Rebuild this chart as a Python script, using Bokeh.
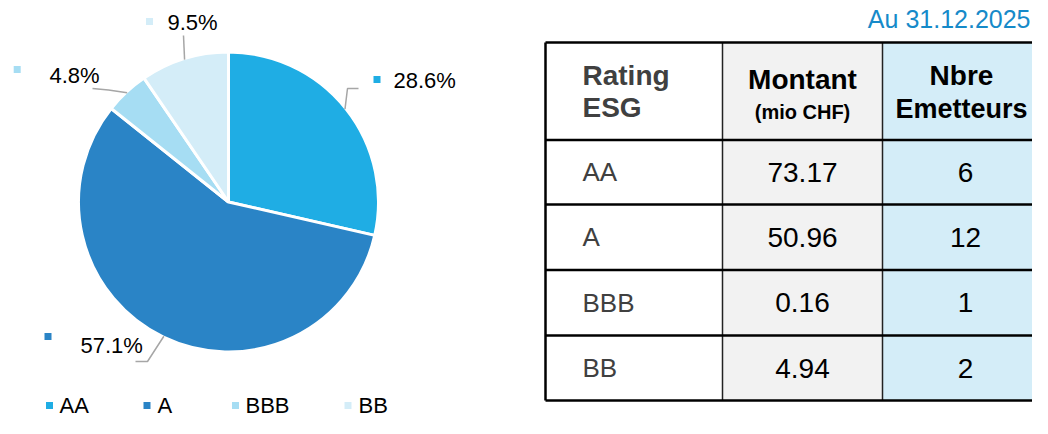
import math
from bokeh.plotting import figure
from bokeh.models import ColumnDataSource, Range1d
from bokeh.core.properties import value
from bokeh.embed import file_html
from bokeh.resources import INLINE

# ---------------- data ----------------
categories = ["AA", "A", "BBB", "BB"]
emitters = [6, 12, 1, 2]
amounts = [73.17, 50.96, 0.16, 4.94]
colors = ["#1FADE4", "#2A84C6", "#A6DDF3", "#D4EDF8"]
header_col1 = ["Rating", "ESG"]
header_col2 = ["Montant", "(mio CHF)"]
header_col3 = ["Nbre", "Emetteurs"]
date_label = "Au 31.12.2025"

FONT = value("Liberation Sans")
W, H = 1032, 418


def Y(v):
    # pixel row from top of the figure -> data y
    return H - v


p = figure(width=W, height=H, output_backend="svg", toolbar_location=None,
           x_range=Range1d(0, W), y_range=Range1d(0, H),
           x_axis_type=None, y_axis_type=None, min_border=0,
           outline_line_color=None, background_fill_color="white",
           border_fill_color="white")
p.grid.visible = False


def label(x, y, text, size, color="#000000", align="left", bold=False):
    p.text(x=x, y=[Y(v) for v in y], text=text, text_font=FONT,
           text_font_size=value(size), text_color=color,
           text_font_style="bold" if bold else "normal",
           text_align=align, text_baseline="middle")


# ---------------- pie ----------------
total = sum(emitters)
fracs = [e / total for e in emitters]
cum = [0.0]
for f in fracs:
    cum.append(cum[-1] + f)
start = [math.pi / 2 - 2 * math.pi * c for c in cum[:-1]]
end = [math.pi / 2 - 2 * math.pi * c for c in cum[1:]]
pct = ["%.1f%%" % (100 * f) for f in fracs]

CX, CY, R = 228, Y(201.5), 150
pie_src = ColumnDataSource(dict(start=start, end=end, color=colors, cat=categories))
p.wedge(x=CX, y=CY, radius=R, start_angle="start", end_angle="end",
        direction="clock", fill_color="color", line_color="white",
        line_width=3, source=pie_src)

# leader lines from slice mid-angle
mid = [(s + e) / 2 for s, e in zip(start, end)]
edge = [(CX + 149 * math.cos(a), CY + 149 * math.sin(a)) for a in mid]
leader_tail = [
    [(347, 88), (358, 88)],
    [(147, 361), (135, 361)],
    [(108, 89.5), (92, 88)],
    [(183, 35)],
]
lx, ly = [], []
for (ex, ey), tail in zip(edge, leader_tail):
    lx.append([ex] + [t[0] for t in tail])
    ly.append([ey] + [Y(t[1]) for t in tail])
p.multi_line(xs=lx, ys=ly, line_color="#A6A6A6", line_width=1.5)

mk_x = [376.5, 47.5, 16.7, 149]
mk_y = [Y(79), Y(336), Y(69), Y(21)]
p.scatter(x=mk_x, y=mk_y, marker="square", size=7, fill_color=colors,
          line_color=None)
label([393, 80, 49, 167], [80, 345, 75, 22], pct, "22px")

# legend
leg_mx = [49, 146.5, 235, 347.5]
leg_tx = [59, 157, 245, 358]
p.scatter(x=leg_mx, y=[Y(405)] * 4, marker="square", size=7,
          fill_color=colors, line_color=None)
label(leg_tx, [405] * 4, categories, "22px")

# ---------------- table ----------------
cols = [545, 722, 882, 1040]
rows = [42, 139.5, 204, 269.5, 335, 400]
col_fill = ["#FFFFFF", "#F2F2F2", "#D4EDF8"]
p.quad(left=cols[:-1], right=cols[1:], top=[Y(rows[0])] * 3,
       bottom=[Y(rows[-1])] * 3, fill_color=col_fill, line_color=None)

# vertical inner lines
p.segment(x0=cols[1:3], x1=cols[1:3], y0=[Y(rows[0])] * 2,
          y1=[Y(rows[-1])] * 2, line_color="#222222", line_width=1.5)
# horizontal lines
p.segment(x0=[cols[0]] * len(rows), x1=[cols[-1]] * len(rows),
          y0=[Y(r) for r in rows], y1=[Y(r) for r in rows],
          line_color="#000000", line_width=2.5)
# outer left border
p.segment(x0=[cols[0]], x1=[cols[0]], y0=[Y(rows[0])], y1=[Y(rows[-1])],
          line_color="#000000", line_width=2.5)

# header
c2 = (cols[1] + cols[2]) / 2
c3 = 965
c3h = 961
label([582, 582], [75, 107], header_col1, "28px", "#404040", bold=True)
label([c2], [79], header_col2[:1], "28px", align="center", bold=True)
label([c2], [111], header_col2[1:], "20px", align="center", bold=True)
label([c3h], [75], header_col3[:1], "28px", align="center", bold=True)
label([c3h], [108], header_col3[1:], "27px", align="center", bold=True)

# body
row_mid = [(rows[i] + rows[i + 1]) / 2 for i in range(1, 5)]
label([582] * 4, row_mid, categories, "26px", "#404040")
label([c2] * 4, row_mid, ["%.2f" % a for a in amounts], "28px", align="center")
label([c3] * 4, row_mid, [str(e) for e in emitters], "28px", align="center")

# date
label([1030], [18], [date_label], "25px", "#168AC9", align="right")

open("out.html", "w").write(file_html(p, INLINE))
